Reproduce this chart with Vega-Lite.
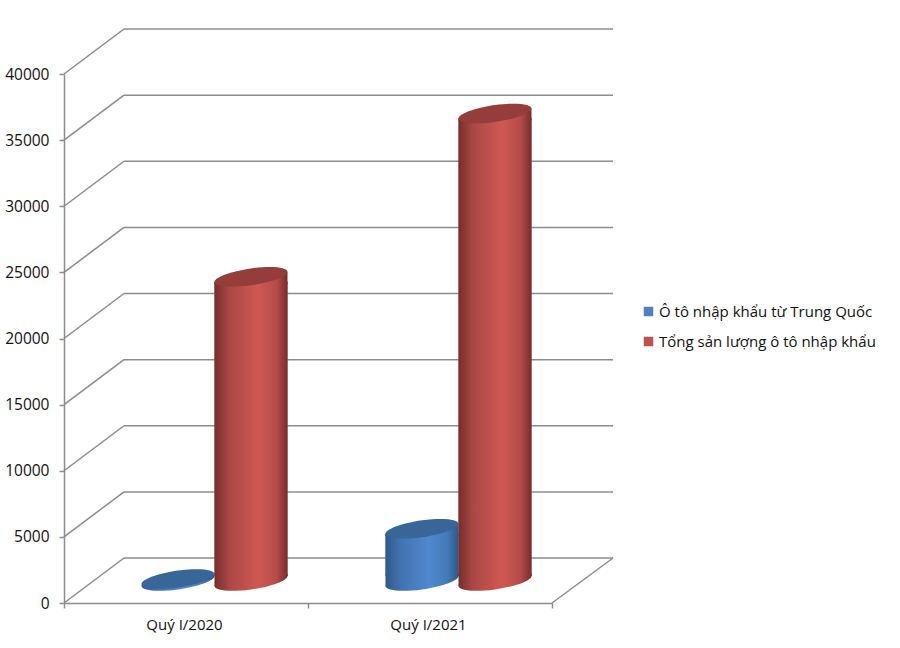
{
"$schema":"https://vega.github.io/schema/vega-lite/v6.json",
"width":488,"height":529,
"autosize":"none",
"padding":{"left":64,"top":74,"right":348,"bottom":45},
"background":"white",
"config":{"view":{"stroke":null}},
"datasets":{
 "ticks":[{"t":0},{"t":5000},{"t":10000},{"t":15000},{"t":20000},{"t":25000},{"t":30000},{"t":35000},{"t":40000}],
 "cars":[
  {"quarter":"Quý I/2020","series":"Ô tô nhập khẩu từ Trung Quốc","value":150},
  {"quarter":"Quý I/2020","series":"Tổng sản lượng ô tô nhập khẩu","value":23000},
  {"quarter":"Quý I/2021","series":"Ô tô nhập khẩu từ Trung Quốc","value":3950},
  {"quarter":"Quý I/2021","series":"Tổng sản lượng ô tô nhập khẩu","value":35350}
 ]
},
"layer":[
 {"data":{"name":"ticks"},"layer":[
  {"mark":{"type":"rule","color":"#8c8c8c","strokeWidth":1.5,"yOffset":-45},
   "encoding":{"x":{"value":60},"x2":{"value":549},"y":{"field":"t","type":"quantitative","scale":{"domain":[0,40000],"nice":false},
     "axis":{"title":null,"format":"d","values":[0,5000,10000,15000,20000,25000,30000,35000,40000],"grid":false,"domainColor":"#8c8c8c","domainWidth":1.5,"tickColor":"#8c8c8c","tickWidth":1.5,"tickSize":5,"labelFont":"Open Sans","labelFontSize":15.5,"labelColor":"#111111","labelPadding":10}}}},
  {"mark":{"type":"rule","color":"#8c8c8c","strokeWidth":1.5,"y2Offset":-45},
   "encoding":{"x":{"value":0},"x2":{"value":60},"y":{"field":"t","type":"quantitative"},"y2":{"field":"t"}}},
  {"transform":[{"filter":"datum.t===0"}],"mark":{"type":"rule","color":"#8c8c8c","strokeWidth":1.5,"y2Offset":-45},
   "encoding":{"x":{"value":488},"x2":{"value":549},"y":{"field":"t","type":"quantitative"},"y2":{"field":"t"}}}
 ]},
 {"data":{"name":"cars"},
  "encoding":{
   "x":{"field":"quarter","type":"nominal","scale":{"type":"band","paddingInner":0,"paddingOuter":0},
     "axis":{"title":null,"labelAngle":0,"tickBand":"extent","domainColor":"#8c8c8c","domainWidth":1.5,"tickColor":"#8c8c8c","tickWidth":1.5,"tickSize":5,"labelFont":"Open Sans","labelFontSize":15,"labelColor":"#111111","labelPadding":9,"labelOffset":-2}},
   "xOffset":{"field":"series","type":"nominal","scale":{"domain":["Ô tô nhập khẩu từ Trung Quốc","Tổng sản lượng ô tô nhập khẩu"],"paddingInner":0,"paddingOuter":0,"range":[77.5,223.5]}}
  },
  "layer":[
   {"transform":[{"filter":"datum.value>1000"}],"mark":{"type":"bar","yOffset":-17,"y2Offset":-27},
    "encoding":{"y":{"field":"value","type":"quantitative"},"y2":{"datum":0},
     "color":{"field":"series","type":"nominal","scale":{"domain":["Ô tô nhập khẩu từ Trung Quốc","Tổng sản lượng ô tô nhập khẩu"],"range":["#4f81bd","#c0504d"]},
      "legend":{"title":null,"orient":"none","legendX":577,"legendY":230,"symbolType":"square","symbolSize":90,"symbolStrokeWidth":0,"labelFont":"Open Sans","labelFontSize":15,"labelColor":"#111111","rowPadding":14,"labelOffset":3,"labelLimit":300}}}},
   {"transform":[{"filter":"indexof(datum.series,'Trung')>=0"}],"layer":[
    {"transform":[{"filter":"datum.value>1000"}],"mark":{"type":"bar","yOffset":-17,"y2Offset":-27,"fill":{"gradient":"linear","x1":0,"x2":1,"y1":0,"y2":0,"stops":[{"offset":0,"color":"#30598a"},{"offset":0.2,"color":"#4173b0"},{"offset":0.6,"color":"#5089cf"},{"offset":0.85,"color":"#4479b8"},{"offset":1,"color":"#2f5784"}]}},
     "encoding":{"y":{"field":"value","type":"quantitative"},"y2":{"datum":0}}},
    {"mark":{"type":"point","filled":true,"opacity":1,"size":5329,"yOffset":-22,"shape":"M1,-.14C1,-.013,.552,.1527,0,.23C-.552,.3073,-1,.267,-1,.14C-1,.013,-.552,-.1527,0,-.23C.552,-.3073,1,-.267,1,-.14Z","fill":{"gradient":"linear","x1":0,"x2":1,"y1":0,"y2":0,"stops":[{"offset":0,"color":"#30598a"},{"offset":0.2,"color":"#4173b0"},{"offset":0.6,"color":"#5089cf"},{"offset":0.85,"color":"#4479b8"},{"offset":1,"color":"#2f5784"}]}},
     "encoding":{"y":{"datum":0,"type":"quantitative"}}},
    {"transform":[{"filter":"datum.value>1000"}],"mark":{"type":"point","filled":true,"opacity":1,"size":5329,"yOffset":-22,"shape":"M-1,.14L1,-.14L1,-.2L-1,-.2Z","fill":{"gradient":"linear","x1":0,"x2":1,"y1":0,"y2":0,"stops":[{"offset":0,"color":"#30598a"},{"offset":0.2,"color":"#4173b0"},{"offset":0.6,"color":"#5089cf"},{"offset":0.85,"color":"#4479b8"},{"offset":1,"color":"#2f5784"}]}},
     "encoding":{"y":{"datum":0,"type":"quantitative"}}},
    {"transform":[{"filter":"datum.value>1000"}],"mark":{"type":"point","filled":true,"opacity":1,"size":5329,"yOffset":-22,"shape":"M-1,.14L1,-.14L1,.2L-1,.2Z","fill":{"gradient":"linear","x1":0,"x2":1,"y1":0,"y2":0,"stops":[{"offset":0,"color":"#30598a"},{"offset":0.2,"color":"#4173b0"},{"offset":0.6,"color":"#5089cf"},{"offset":0.85,"color":"#4479b8"},{"offset":1,"color":"#2f5784"}]}},
     "encoding":{"y":{"field":"value","type":"quantitative"}}},
    {"mark":{"type":"point","filled":true,"opacity":1,"size":5329,"yOffset":-22,"shape":"M1,-.14C1,-.013,.552,.1527,0,.23C-.552,.3073,-1,.267,-1,.14C-1,.013,-.552,-.1527,0,-.23C.552,-.3073,1,-.267,1,-.14Z","fill":"#386698"},
     "encoding":{"y":{"field":"value","type":"quantitative"}}}
   ]},
   {"transform":[{"filter":"indexof(datum.series,'Trung')<0"}],"layer":[
    {"mark":{"type":"bar","yOffset":-17,"y2Offset":-27,"fill":{"gradient":"linear","x1":0,"x2":1,"y1":0,"y2":0,"stops":[{"offset":0,"color":"#752e2c"},{"offset":0.2,"color":"#aa4845"},{"offset":0.6,"color":"#d05853"},{"offset":0.85,"color":"#b44c49"},{"offset":1,"color":"#752e2c"}]}},
     "encoding":{"y":{"field":"value","type":"quantitative"},"y2":{"datum":0}}},
    {"mark":{"type":"point","filled":true,"opacity":1,"size":5329,"yOffset":-22,"shape":"M1,-.14C1,-.013,.552,.1527,0,.23C-.552,.3073,-1,.267,-1,.14C-1,.013,-.552,-.1527,0,-.23C.552,-.3073,1,-.267,1,-.14Z","fill":{"gradient":"linear","x1":0,"x2":1,"y1":0,"y2":0,"stops":[{"offset":0,"color":"#752e2c"},{"offset":0.2,"color":"#aa4845"},{"offset":0.6,"color":"#d05853"},{"offset":0.85,"color":"#b44c49"},{"offset":1,"color":"#752e2c"}]}},
     "encoding":{"y":{"datum":0,"type":"quantitative"}}},
    {"mark":{"type":"point","filled":true,"opacity":1,"size":5329,"yOffset":-22,"shape":"M-1,.14L1,-.14L1,-.2L-1,-.2Z","fill":{"gradient":"linear","x1":0,"x2":1,"y1":0,"y2":0,"stops":[{"offset":0,"color":"#752e2c"},{"offset":0.2,"color":"#aa4845"},{"offset":0.6,"color":"#d05853"},{"offset":0.85,"color":"#b44c49"},{"offset":1,"color":"#752e2c"}]}},
     "encoding":{"y":{"datum":0,"type":"quantitative"}}},
    {"mark":{"type":"point","filled":true,"opacity":1,"size":5329,"yOffset":-22,"shape":"M-1,.14L1,-.14L1,.2L-1,.2Z","fill":{"gradient":"linear","x1":0,"x2":1,"y1":0,"y2":0,"stops":[{"offset":0,"color":"#752e2c"},{"offset":0.2,"color":"#aa4845"},{"offset":0.6,"color":"#d05853"},{"offset":0.85,"color":"#b44c49"},{"offset":1,"color":"#752e2c"}]}},
     "encoding":{"y":{"field":"value","type":"quantitative"}}},
    {"mark":{"type":"point","filled":true,"opacity":1,"size":5329,"yOffset":-22,"shape":"M1,-.14C1,-.013,.552,.1527,0,.23C-.552,.3073,-1,.267,-1,.14C-1,.013,-.552,-.1527,0,-.23C.552,-.3073,1,-.267,1,-.14Z","fill":"#953d3a"},
     "encoding":{"y":{"field":"value","type":"quantitative"}}}
   ]}
  ]}
]
}
